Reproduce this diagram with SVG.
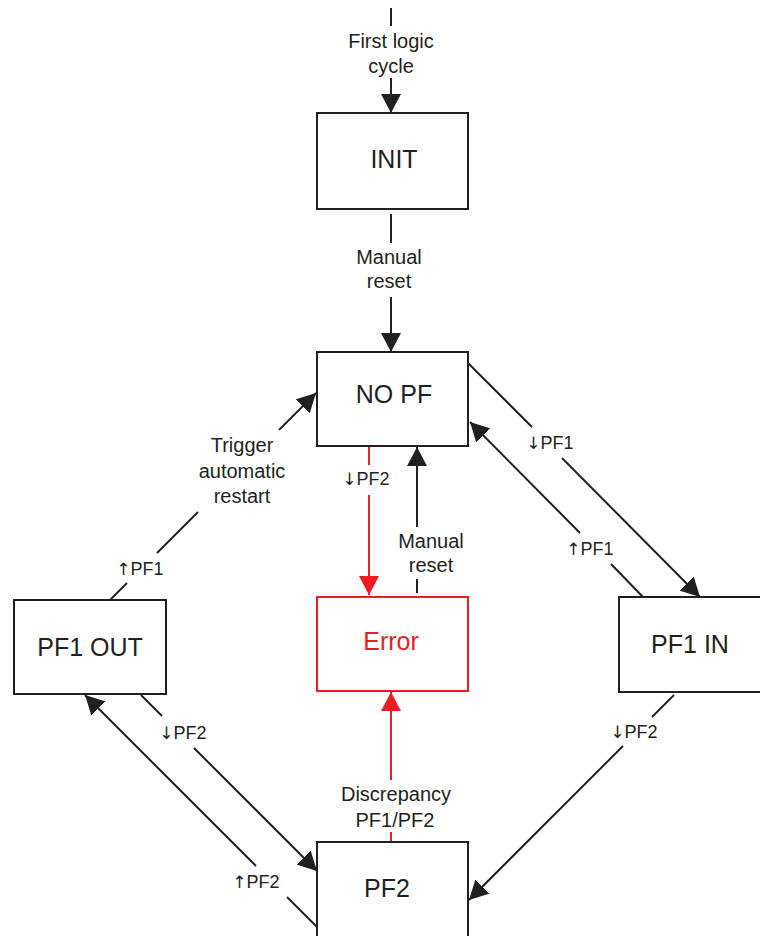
<svg xmlns="http://www.w3.org/2000/svg" width="760" height="936" viewBox="0 0 760 936">
<defs>
<style>
.box{fill:#fff;stroke:#231f20;stroke-width:2}
.rbox{fill:#fff;stroke:#ed1c24;stroke-width:2}
.ln{stroke:#231f20;stroke-width:2;fill:none}
.rln{stroke:#ed1c24;stroke-width:2;fill:none}
.arr{marker-end:url(#ah)}
.rarr{marker-end:url(#rah)}
text{font-family:"Liberation Sans",Arial,sans-serif;fill:#231f20;text-anchor:middle}
.nl{font-size:25px}
.el{font-size:20px}
.tl{font-size:18px}
.ag{font-family:"DejaVu Sans",sans-serif;font-size:17px}
.red{fill:#ed1c24}
</style>
<marker id="ah" markerUnits="userSpaceOnUse" markerWidth="20" markerHeight="20" refX="19" refY="10" orient="auto" viewBox="0 0 20 20">
<path d="M0,0 L19,10 L0,20 z" fill="#231f20"/>
</marker>
<marker id="rah" markerUnits="userSpaceOnUse" markerWidth="20" markerHeight="20" refX="19" refY="10" orient="auto" viewBox="0 0 20 20">
<path d="M0,0 L19,10 L0,20 z" fill="#ed1c24"/>
</marker>
</defs>
<rect width="760" height="936" fill="#fff"/>
<g id="connectors">
<line class="ln" x1="391" y1="8" x2="391" y2="26"/>
<line class="ln arr" x1="391" y1="78" x2="391" y2="113"/>
<line class="ln" x1="391" y1="214" x2="391" y2="243"/>
<line class="ln arr" x1="391" y1="297" x2="391" y2="352"/>
<line class="rln" x1="369" y1="447" x2="369" y2="465"/>
<line class="rln rarr" x1="369" y1="495" x2="369" y2="595"/>
<line class="ln" x1="417" y1="593" x2="417" y2="579"/>
<line class="ln arr" x1="417" y1="527" x2="417" y2="447"/>
<line class="ln" x1="110" y1="600" x2="127" y2="583"/>
<line class="ln" x1="157" y1="553" x2="198" y2="512"/>
<line class="ln arr" x1="279" y1="430" x2="316" y2="393"/>
<line class="ln" x1="468" y1="363" x2="532" y2="427"/>
<line class="ln arr" x1="562" y1="458" x2="700" y2="597"/>
<line class="ln" x1="643" y1="597" x2="611" y2="564"/>
<line class="ln arr" x1="580" y1="533" x2="470" y2="422"/>
<line class="ln" x1="141" y1="695" x2="162" y2="716"/>
<line class="ln arr" x1="194" y1="748" x2="317" y2="871"/>
<line class="ln" x1="317" y1="927" x2="287" y2="897"/>
<line class="ln arr" x1="256" y1="866" x2="85" y2="695"/>
<line class="ln" x1="674" y1="695" x2="652" y2="717"/>
<line class="ln arr" x1="623" y1="746" x2="469" y2="900"/>
<line class="rln" x1="391" y1="842" x2="391" y2="832"/>
<line class="rln rarr" x1="391" y1="780" x2="391" y2="692"/>
<text class="el" x="391" y="48">First logic</text>
<text class="el" x="391" y="73">cycle</text>
<text class="el" x="389" y="264">Manual</text>
<text class="el" x="389" y="288">reset</text>
<text class="tl" x="366" y="485"><tspan class="ag">↓</tspan>PF2</text>
<text class="el" x="431" y="548">Manual</text>
<text class="el" x="431" y="572">reset</text>
<text class="el" x="242" y="452">Trigger</text>
<text class="el" x="242" y="478">automatic</text>
<text class="el" x="242" y="503">restart</text>
<text class="tl" x="140" y="575"><tspan class="ag">↑</tspan>PF1</text>
<text class="tl" x="550" y="449"><tspan class="ag">↓</tspan>PF1</text>
<text class="tl" x="590" y="555"><tspan class="ag">↑</tspan>PF1</text>
<text class="tl" x="183" y="739"><tspan class="ag">↓</tspan>PF2</text>
<text class="tl" x="256" y="888"><tspan class="ag">↑</tspan>PF2</text>
<text class="tl" x="634" y="738"><tspan class="ag">↓</tspan>PF2</text>
<text class="el" x="396" y="801">Discrepancy</text>
<text class="el" x="395" y="827">PF1/PF2</text>
</g>
<g id="init"><rect class="box" x="317" y="113" width="151" height="96"/><text class="nl" x="394" y="168">INIT</text></g>
<g id="nopf"><rect class="box" x="317" y="352" width="151" height="94"/><text class="nl" x="394" y="403">NO PF</text></g>
<g id="error"><rect class="rbox" x="317" y="597" width="151" height="94"/><text class="nl red" x="391" y="650">Error</text></g>
<g id="pf1out"><rect class="box" x="14" y="600" width="152" height="94"/><text class="nl" x="90" y="656">PF1 OUT</text></g>
<g id="pf1in"><rect class="box" x="619" y="597" width="151" height="95"/><text class="nl" x="690" y="653">PF1 IN</text></g>
<g id="pf2"><rect class="box" x="317" y="842" width="151" height="100"/><text class="nl" x="387" y="897">PF2</text></g>
</svg>
